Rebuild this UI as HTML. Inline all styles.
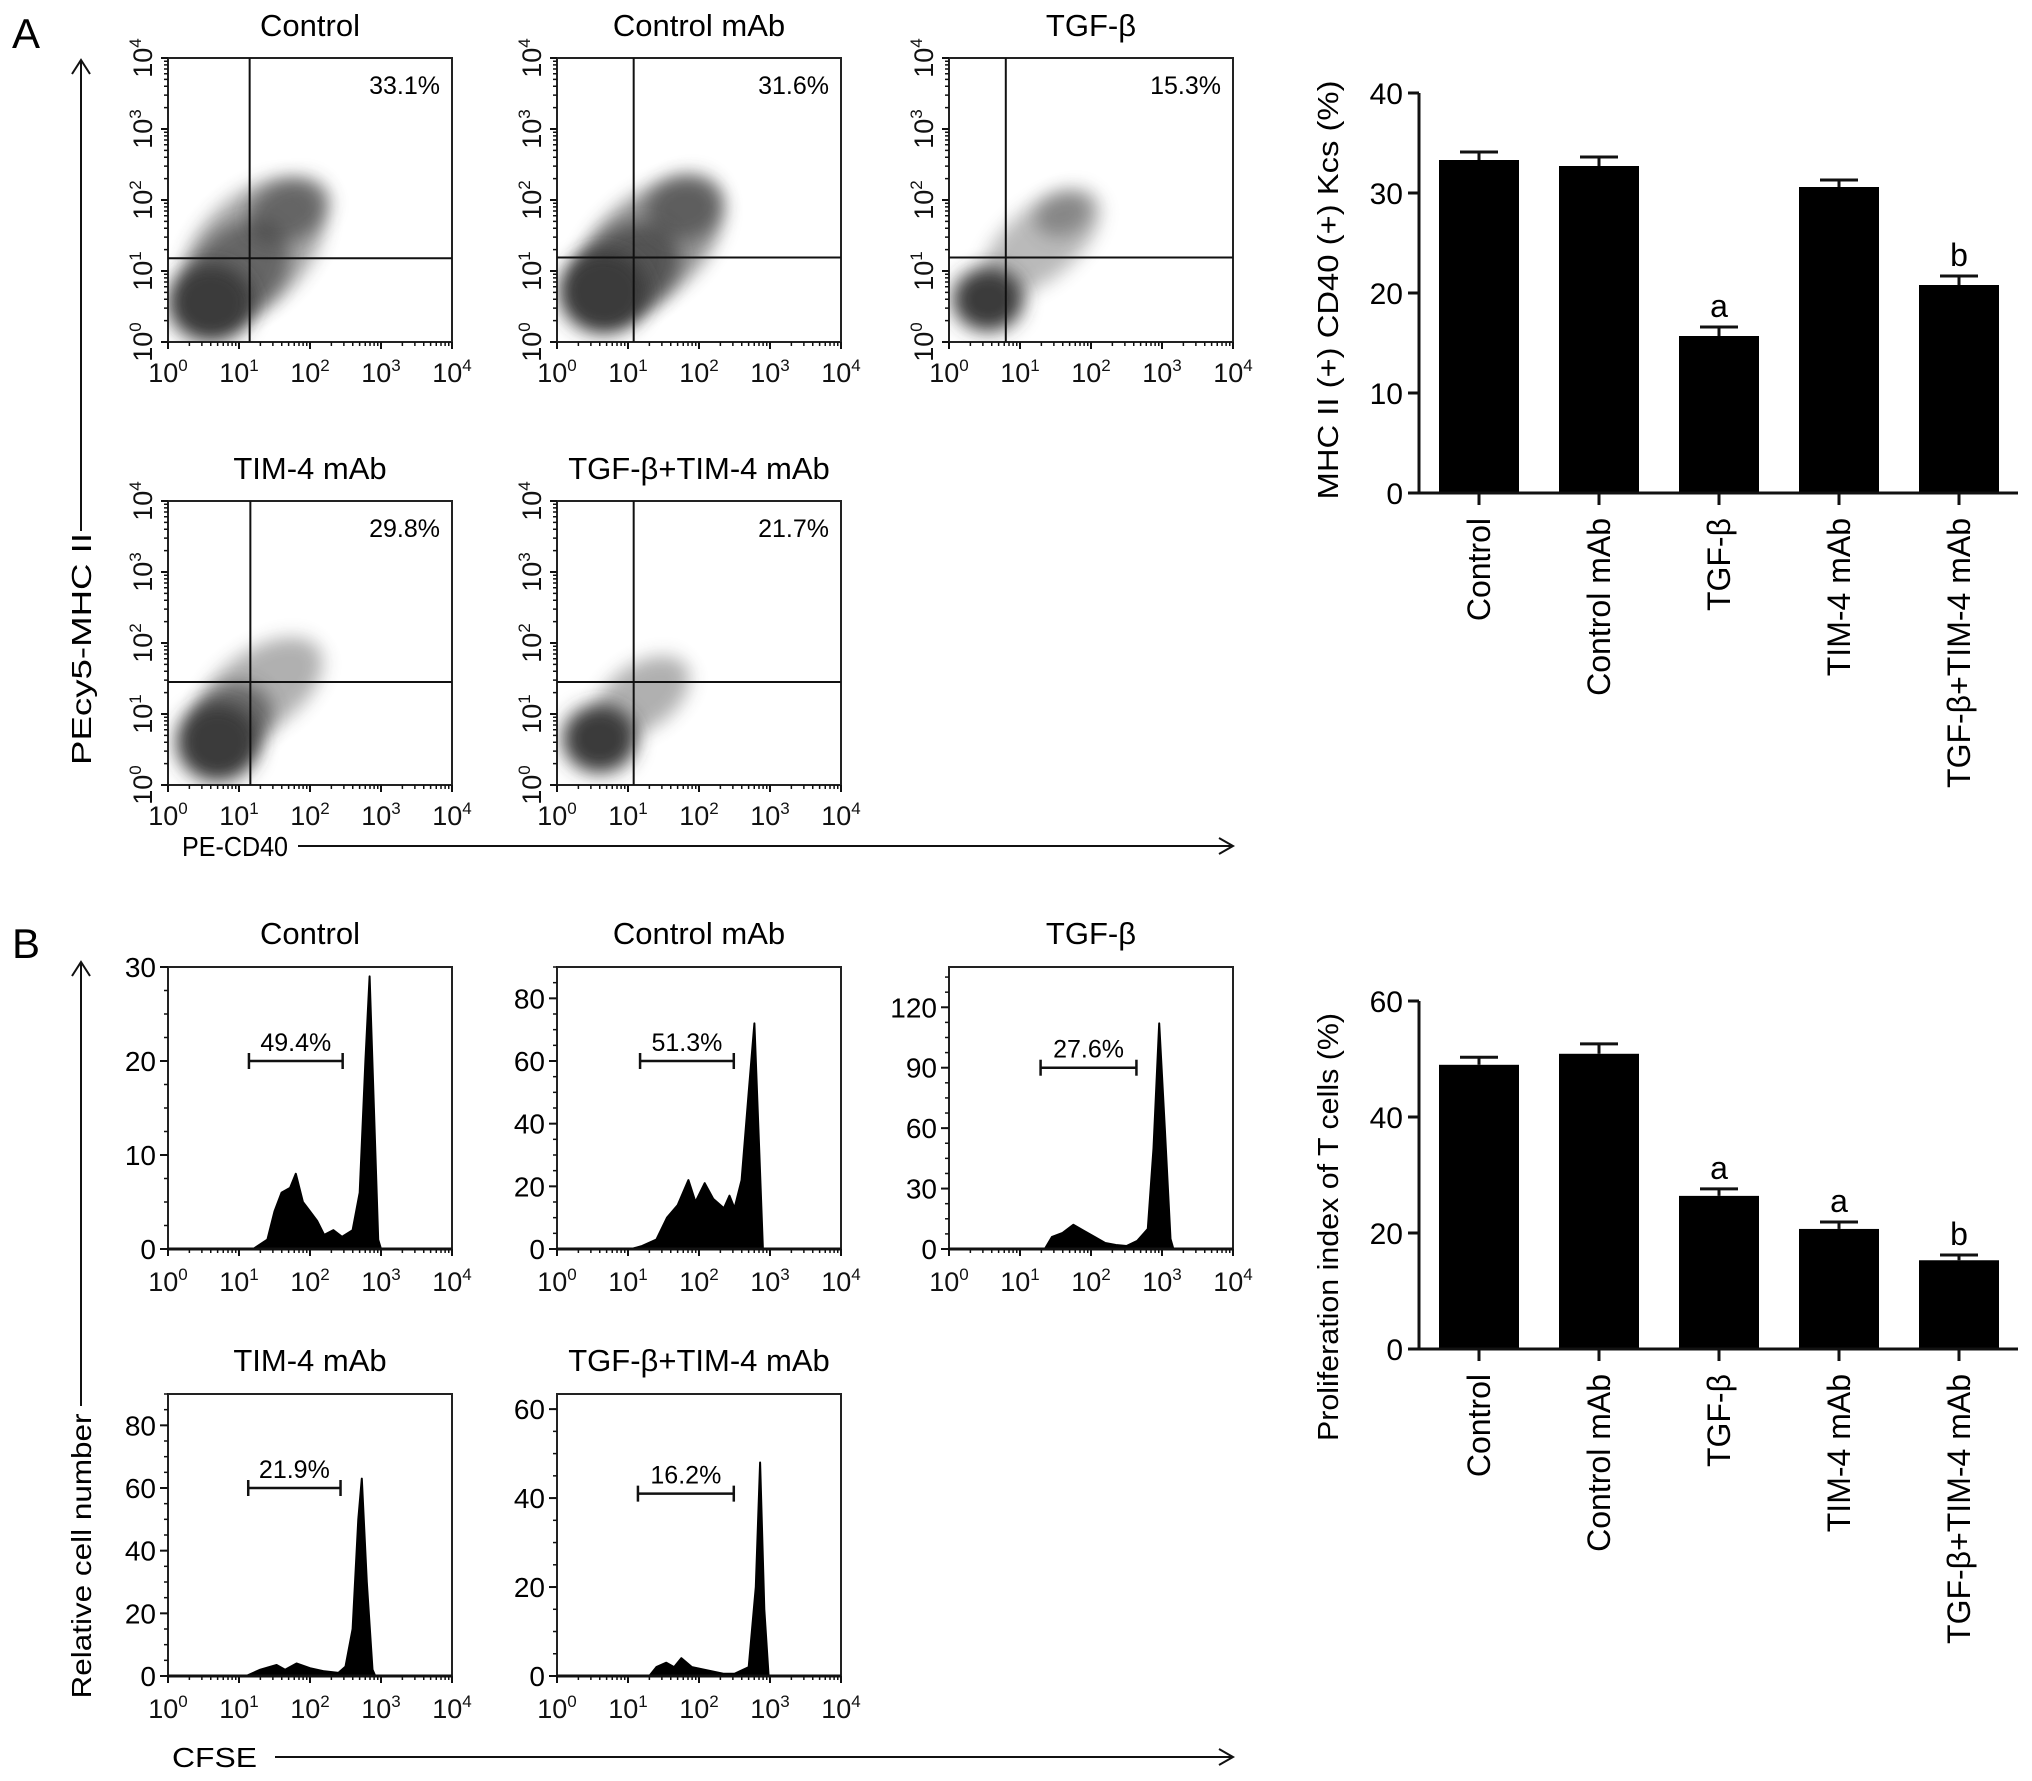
<!DOCTYPE html>
<html><head><meta charset="utf-8">
<style>
html,body{margin:0;padding:0;background:#fff;}
svg{display:block;font-family:"Liberation Sans",Arial,sans-serif;}
</style></head>
<body>
<svg id="fig" width="2032" height="1781" viewBox="0 0 2032 1781" xmlns="http://www.w3.org/2000/svg">
<defs>
<filter id="blur1" x="-50%" y="-50%" width="200%" height="200%"><feGaussianBlur stdDeviation="9"/></filter>
</defs>
<text x="12" y="48" font-size="42">A</text>
<text x="12" y="958" font-size="42">B</text>
</svg>
<script>
// ===== Bar chart data =====
const barCategories = ["Control","Control mAb","TGF-β","TIM-4 mAb","TGF-β+TIM-4 mAb"];
const mhcValues = [33.3, 32.7, 15.7, 30.6, 20.8];
const mhcErrors = [0.8, 0.9, 0.9, 0.7, 0.9];
const mhcLetters = ["", "", "a", "", "b"];
const mhcTicks = [0, 10, 20, 30, 40];
const prolifValues = [49.0, 50.9, 26.4, 20.7, 15.3];
const prolifErrors = [1.3, 1.7, 1.2, 1.2, 0.9];
const prolifLetters = ["", "", "a", "a", "b"];
const prolifTicks = [0, 20, 40, 60];

// ===== Flow scatter data (quadrant gates & cloud clusters in log10 units) =====
const scatterTitles = ["Control","Control mAb","TGF-β","TIM-4 mAb","TGF-β+TIM-4 mAb"];
const scatterPercents = ["33.1%","31.6%","15.3%","29.8%","21.7%"];
const gateX = [1.15, 1.08, 0.8, 1.16, 1.08];
const gateY = [1.18, 1.19, 1.19, 1.45, 1.45];
// cluster: [cx, cy, rx, ry, rotation, opacity]
const clustersControl = [[1.2,1.3,1.2,0.75,-45,0.45],[1.0,1.0,0.8,0.6,-45,0.6],[1.7,1.85,0.6,0.42,-25,0.6],[0.6,0.55,0.6,0.55,0,1]];
const clustersControlMab = [[1.3,1.35,1.2,0.7,-40,0.55],[1.0,1.0,0.8,0.6,-40,0.7],[1.8,1.9,0.55,0.45,-20,0.6],[0.65,0.7,0.62,0.58,0,1]];
const clustersTgf = [[1.3,1.4,1.0,0.5,-40,0.35],[1.6,1.8,0.4,0.3,-20,0.4],[0.55,0.6,0.5,0.45,0,1]];
const clustersTim = [[1.3,1.35,1.0,0.55,-35,0.4],[0.9,0.9,0.6,0.5,-35,0.6],[0.7,0.6,0.58,0.55,0,1]];
const clustersCombo = [[1.2,1.25,0.75,0.45,-35,0.4],[0.6,0.65,0.52,0.48,0,1]];

// ===== CFSE histogram data: [log10 CFSE, count] =====
const histTitles = ["Control","Control mAb","TGF-β","TIM-4 mAb","TGF-β+TIM-4 mAb"];
const histPercents = ["49.4%","51.3%","27.6%","21.9%","16.2%"];
const histMax = [30, 90, 140, 90, 63.4];
const histTicksControl = [0,10,20,30];
const histTicksControlMab = [0,20,40,60,80];
const histTicksTgf = [0,30,60,90,120];
const histTicksTim = [0,20,40,60,80];
const histTicksCombo = [0,20,40,60];
const histControl = [[1.2,0],[1.4,1],[1.5,4],[1.6,6],[1.72,6.5],[1.8,8],[1.9,5],[2.0,4],[2.1,3],[2.2,1.5],[2.33,2],[2.45,1.3],[2.6,2],[2.7,6],[2.78,20],[2.84,29],[2.9,15],[2.96,1],[3.0,0]];
const histControlMab = [[1.05,0],[1.2,1],[1.4,3],[1.55,10],[1.7,14],[1.85,22],[1.95,15],[2.08,21],[2.2,16],[2.35,13],[2.43,17],[2.5,13],[2.6,22],[2.7,50],[2.78,72],[2.85,30],[2.9,0]];
const histTgf = [[1.35,0],[1.45,6],[1.6,8],[1.75,12],[1.9,9],[2.05,6],[2.2,3],[2.35,2],[2.5,1.5],[2.65,4],[2.8,10],[2.88,50],[2.96,112],[3.04,60],[3.12,5],[3.16,0]];
const histTim = [[1.1,0],[1.3,2],[1.53,3.5],[1.65,2],[1.81,4],[2.0,2.5],[2.2,1.5],[2.4,1],[2.5,3],[2.6,15],[2.68,50],[2.73,63],[2.8,30],[2.88,2],[2.92,0]];
const histCombo = [[1.3,0],[1.4,2],[1.54,3],[1.65,2],[1.75,4],[1.9,2],[2.05,1.5],[2.2,1],[2.35,0.5],[2.5,0.5],[2.7,2],[2.8,20],[2.86,48],[2.92,15],[2.98,0]];
const gateRanges = [[1.14,2.46],[1.17,2.49],[1.29,2.64],[1.13,2.43],[1.14,2.49]];
const gateCounts = [20, 60, 90, 60, 41];

const NS = "http://www.w3.org/2000/svg";
const svg = document.getElementById("fig");
function el(tag, attrs, parent, text){
  const e = document.createElementNS(NS, tag);
  for (const k in attrs) e.setAttribute(k, attrs[k]);
  if (text !== undefined) e.textContent = text;
  (parent || svg).appendChild(e);
  return e;
}
function line(x1,y1,x2,y2,w,p){ return el("line",{x1,y1,x2,y2,stroke:"#111","stroke-width":w||2},p); }

function powLabel(parent, x, y, exp, rotate){
  const t = el("text",{x, y, "font-size":27, "text-anchor":"middle", fill:"#111"}, parent);
  if (rotate) t.setAttribute("transform","rotate(-90 "+x+" "+y+")");
  const a = document.createElementNS(NS,"tspan"); a.textContent = "10"; t.appendChild(a);
  const b = document.createElementNS(NS,"tspan"); b.setAttribute("font-size","17"); b.setAttribute("dy","-11"); b.textContent = String(exp); t.appendChild(b);
  return t;
}

const colX = [168, 557, 949];
const PW = 284, PH = 284;

// ===== Scatter panels =====
const scatterPos = [[0,58],[1,58],[2,58],[0,501],[1,501]];
const scatterClusters = [clustersControl, clustersControlMab, clustersTgf, clustersTim, clustersCombo];
scatterTitles.forEach((title, i) => {
  const x0 = colX[scatterPos[i][0]], y0 = scatterPos[i][1];
  const g = el("g",{});
  
  
  const sx = v => x0 + v/4*PW, sy = v => y0 + PH - v/4*PH;
  const t = el("text",{x:x0+PW/2, y:y0-22, "font-size":31, "text-anchor":"middle"}, g, title);
  
  
  const clip = el("clipPath",{id:"sc"+i}, g);
  el("rect",{x:x0,y:y0,width:PW,height:PH}, clip);
  const cg = el("g",{"clip-path":"url(#sc"+i+")"}, g);
  scatterClusters[i].forEach(c => {
    const e = el("ellipse",{cx:sx(c[0]), cy:sy(c[1]), rx:c[2]/4*PW, ry:c[3]/4*PH, fill:"#3a3a3a", opacity:c[5], filter:"url(#blur1)",
      transform:"rotate("+c[4]+" "+sx(c[0])+" "+sy(c[1])+")"}, cg);
    
    
  });
  el("rect",{x:x0,y:y0,width:PW,height:PH,fill:"none",stroke:"#222","stroke-width":2}, g);
  line(sx(gateX[i]), y0, sx(gateX[i]), y0+PH, 2, g);
  line(x0, sy(gateY[i]), x0+PW, sy(gateY[i]), 2, g);
  const p = el("text",{x:x0+PW-12, y:y0+36, "font-size":25, "text-anchor":"end"}, g, scatterPercents[i]);
  
  
  for (let d=0; d<=4; d++){
    line(sx(d), y0+PH, sx(d), y0+PH+7, 2, g);
    line(x0-7, sy(d), x0, sy(d), 2, g);
    powLabel(g, sx(d), y0+PH+40, d, false);
    powLabel(g, x0-16, sy(d), d, true);
    if (d<4) for (let m=2; m<10; m++){
      const lv = d + Math.log10(m);
      line(sx(lv), y0+PH, sx(lv), y0+PH+4, 1.5, g);
      line(x0-4, sy(lv), x0, sy(lv), 1.5, g);
    }
  }
});

// ===== Histogram panels =====
const histPos = [[0,967],[1,967],[2,967],[0,1394],[1,1394]];
const histData = [histControl, histControlMab, histTgf, histTim, histCombo];
const histTicks = [histTicksControl, histTicksControlMab, histTicksTgf, histTicksTim, histTicksCombo];
histTitles.forEach((title, i) => {
  const x0 = colX[histPos[i][0]], y0 = histPos[i][1], H = 282;
  const g = el("g",{});
  
  
  const sx = v => x0 + v/4*PW, sy = v => y0 + H - v/histMax[i]*H;
  const t = el("text",{x:x0+PW/2, y:y0-23, "font-size":31, "text-anchor":"middle"}, g, title);
  
  
  let d = "M" + sx(histData[i][0][0]) + " " + sy(0);
  histData[i].forEach(pt => { d += " L" + sx(pt[0]).toFixed(1) + " " + sy(pt[1]).toFixed(1); });
  d += " L" + sx(histData[i][histData[i].length-1][0]) + " " + sy(0) + " Z";
  const path = el("path",{d, fill:"#000", stroke:"#000", "stroke-width":2, "stroke-linejoin":"round"}, g);
  
  
  el("rect",{x:x0,y:y0,width:PW,height:H,fill:"none",stroke:"#222","stroke-width":2}, g);
  line(x0, sy(0), x0+PW, sy(0), 3, g);
  const gy = sy(gateCounts[i]);
  const ga = sx(gateRanges[i][0]), gb = sx(gateRanges[i][1]);
  line(ga, gy, gb, gy, 2.5, g); line(ga, gy-8, ga, gy+8, 2.5, g); line(gb, gy-8, gb, gy+8, 2.5, g);
  const p = el("text",{x:(ga+gb)/2, y:gy-10, "font-size":25, "text-anchor":"middle"}, g, histPercents[i]);
  
  
  for (let dd=0; dd<=4; dd++){
    line(sx(dd), y0+H, sx(dd), y0+H+7, 2, g);
    powLabel(g, sx(dd), y0+H+42, dd, false);
    if (dd<4) for (let m=2; m<10; m++) line(sx(dd+Math.log10(m)), y0+H, sx(dd+Math.log10(m)), y0+H+4, 1.5, g);
  }
  const tk = histTicks[i];
  const step = tk[1]-tk[0];
  for (let v=0; v<=histMax[i]; v+=step/4) line(x0-4, sy(v), x0, sy(v), 1.5, g);
  tk.forEach(v => {
    line(x0-8, sy(v), x0, sy(v), 2, g);
    el("text",{x:x0-12, y:sy(v)+10, "font-size":28, "text-anchor":"end"}, g, String(v));
  });
});

// ===== Axis arrows & labels =====
function arrowUp(x, yTop, yBot, name){
  const g = el("g",{});
  
  
  line(x, yTop, x, yBot, 2, g);
  el("polyline",{points:(x-9)+","+(yTop+14)+" "+x+","+yTop+" "+(x+9)+","+(yTop+14), fill:"none", stroke:"#111","stroke-width":2}, g);
}
function arrowRight(xL, xR, y, name){
  const g = el("g",{});
  
  
  line(xL, y, xR, y, 2, g);
  el("polyline",{points:(xR-14)+","+(y-8)+" "+xR+","+y+" "+(xR-14)+","+(y+8), fill:"none", stroke:"#111","stroke-width":2}, g);
}
arrowUp(81, 60, 531, "y-axis-arrow-a");
arrowUp(81, 962, 1406, "y-axis-arrow-b");
arrowRight(298, 1233, 846, "x-axis-arrow-a");
arrowRight(275, 1233, 1757, "x-axis-arrow-b");
let tl;
tl = el("text",{x:0,y:0,"font-size":28,"text-anchor":"middle",transform:"translate(91,649) rotate(-90)",textLength:232,lengthAdjust:"spacingAndGlyphs"}, svg, "PEcy5-MHC II");


tl = el("text",{x:0,y:0,"font-size":28,"text-anchor":"middle",transform:"translate(91,1556) rotate(-90)",textLength:285,lengthAdjust:"spacingAndGlyphs"}, svg, "Relative cell number");


tl = el("text",{x:182,y:856,"font-size":28,textLength:106,lengthAdjust:"spacingAndGlyphs"}, svg, "PE-CD40");


tl = el("text",{x:172,y:1767,"font-size":28,textLength:85,lengthAdjust:"spacingAndGlyphs"}, svg, "CFSE");



// ===== Bar charts =====
function barChart(values, errors, letters, ticks, y0, pxPerUnit, ylabel, labelCenter, labelLen, name){
  const g = el("g",{});
  
  
  const ax = 1419, xEnd = 2018, bw = 80, sp = 120, first = 1479;
  const sy = v => y0 - v*pxPerUnit;
  const top = sy(ticks[ticks.length-1]);
  values.forEach((v, i) => {
    const cx = first + i*sp;
    const r = el("rect",{x:cx-bw/2, y:sy(v), width:bw, height:y0-sy(v), fill:"#000"}, g);
    
    
    const e = sy(v + errors[i]);
    line(cx, sy(v), cx, e, 3, g);
    line(cx-19, e, cx+19, e, 3, g);
    if (letters[i]) el("text",{x:cx, y:e-10, "font-size":32, "text-anchor":"middle"}, g, letters[i]);
    line(cx, y0, cx, y0+12, 3, g);
    const lb = el("text",{x:0, y:0, "font-size":32, "text-anchor":"end", transform:"translate("+(cx+11)+","+(y0+25)+") rotate(-90)"}, g, barCategories[i]);
    
    
  });
  line(ax, top, ax, y0+1.5, 3, g);
  line(ax-1.5, y0, xEnd, y0, 3, g);
  ticks.forEach(v => {
    line(ax-11, sy(v), ax, sy(v), 3, g);
    el("text",{x:ax-16, y:sy(v)+11, "font-size":30, "text-anchor":"end"}, g, String(v));
  });
  const yl = el("text",{x:0,y:0,"font-size":29,"text-anchor":"middle",transform:"translate(1338,"+labelCenter+") rotate(-90)",textLength:labelLen,lengthAdjust:"spacingAndGlyphs"}, g, ylabel);
  
  
}
barChart(mhcValues, mhcErrors, mhcLetters, mhcTicks, 493, 10, "MHC II (+) CD40 (+) Kcs (%)", 290, 419, "bar-chart-mhc");
barChart(prolifValues, prolifErrors, prolifLetters, prolifTicks, 1349, 348/60, "Proliferation index of T cells (%)", 1227, 428, "bar-chart-proliferation");
</script>
</body></html>
